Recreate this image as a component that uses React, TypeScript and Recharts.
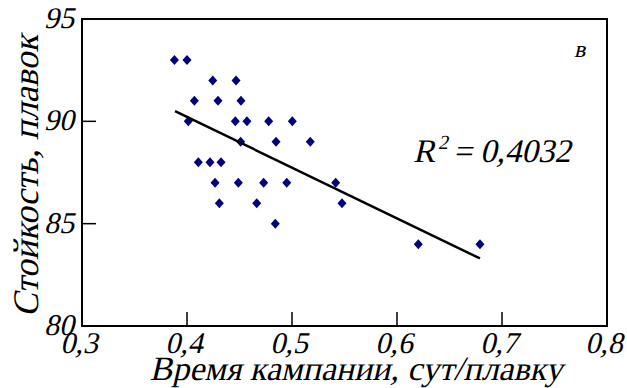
import { ScatterChart, Scatter, XAxis, YAxis, ReferenceArea } from "recharts";

const xTicks = [0.3, 0.4, 0.5, 0.6, 0.7, 0.8];
const yTicks = [80, 85, 90, 95];

// время кампании, сут/плавку
const campaignTime = [
  0.388, 0.4, 0.4245, 0.4467, 0.407, 0.4295, 0.4514, 0.4012, 0.446, 0.4571,
  0.4778, 0.5003, 0.4511, 0.4848, 0.5174, 0.4108, 0.4219, 0.4324, 0.4267,
  0.4489, 0.473, 0.495, 0.5416, 0.4308, 0.4664, 0.5476, 0.4841, 0.6203, 0.679,
];
// стойкость, плавок
const durability = [
  93, 93, 92, 92, 91, 91, 91, 90, 90, 90, 90, 90, 89, 89, 89, 88, 88, 88, 87,
  87, 87, 87, 87, 86, 86, 86, 85, 84, 84,
];
// линия тренда (концы)
const trendX = [0.3886, 0.679];
const trendY = [90.5, 83.3];

const points = campaignTime.map((x, i) => ({ x, y: durability[i] }));
const trend = trendX.map((x, i) => ({ x, y: trendY[i] }));

const fmt = (v: number) => (Number.isInteger(v) ? String(v) : v.toFixed(1).replace(".", ","));

// Liberation Serif has no italic face here, so slant the regular one
const Slanted = ({ x, y, size, anchor = "start", rotate = 0, children }: any) => (
  <text
    transform={`translate(${x},${y}) rotate(${rotate}) skewX(-13)`}
    textAnchor={anchor}
    fontFamily="Liberation Serif"
    fontSize={size}
    fill="#000"
  >
    {children}
  </text>
);

const Diamond = (props: any) => {
  const { cx, cy } = props;
  return (
    <polygon
      points={`${cx},${cy - 5} ${cx + 4.5},${cy} ${cx},${cy + 5} ${cx - 4.5},${cy}`}
      fill="#000080"
    />
  );
};

const YTick = (props: any) => {
  const { x, y, payload } = props;
  return (
    <g>
      <line x1={x + 4} x2={x + 18} y1={y} y2={y} stroke="#000" strokeWidth={1.5} />
      <Slanted x={x - 4} y={y + 9} size={30} anchor="end">
        {fmt(payload.value)}
      </Slanted>
    </g>
  );
};

const XTick = (props: any) => {
  const { x, y, payload } = props;
  return (
    <g>
      <line x1={x} x2={x} y1={y} y2={y - 14} stroke="#000" strokeWidth={1.5} />
      <Slanted x={x - 3} y={y + 27} size={30} anchor="middle">
        {fmt(payload.value)}
      </Slanted>
    </g>
  );
};

const App = () => {
  return (
    <div style={{ position: "absolute", left: 0, top: 0, width: 627, height: 388, background: "#fff" }}>
      <ScatterChart width={627} height={388} margin={{ top: 19, right: 20, bottom: 0, left: 22 }}>
        <XAxis
          type="number"
          dataKey="x"
          domain={[0.3, 0.8]}
          ticks={xTicks}
          interval={0}
          axisLine={false}
          tickLine={false}
          tickSize={0}
          tickMargin={0}
          height={62}
          tick={<XTick />}
        />
        <YAxis
          type="number"
          dataKey="y"
          domain={[80, 95]}
          ticks={yTicks}
          interval={0}
          axisLine={false}
          tickLine={false}
          tickSize={0}
          tickMargin={4}
          width={60}
          tick={<YTick />}
        />
        <ReferenceArea x1={0.3} x2={0.8} y1={80} y2={95} fill="none" stroke="#000" strokeWidth={2} ifOverflow="visible" />
        <Scatter data={points} shape={<Diamond />} isAnimationActive={false} />
        <Scatter
          data={trend}
          line={{ stroke: "#000", strokeWidth: 2.5 }}
          shape={() => <g />}
          isAnimationActive={false}
        />
        <Slanted x={413} y={162} size={33}>
          R<tspan dy={-13} fontSize={20}>2</tspan>
          <tspan dy={13}> = 0,4032</tspan>
        </Slanted>
        <Slanted x={574} y={57} size={24}>
          в
        </Slanted>
        <Slanted x={356} y={380} size={34} anchor="middle">
          Время кампании, сут/плавку
        </Slanted>
        <Slanted x={38} y={176} size={36} anchor="middle" rotate={-90}>
          Стойкость, плавок
        </Slanted>
      </ScatterChart>
    </div>
  );
};

export default App;
